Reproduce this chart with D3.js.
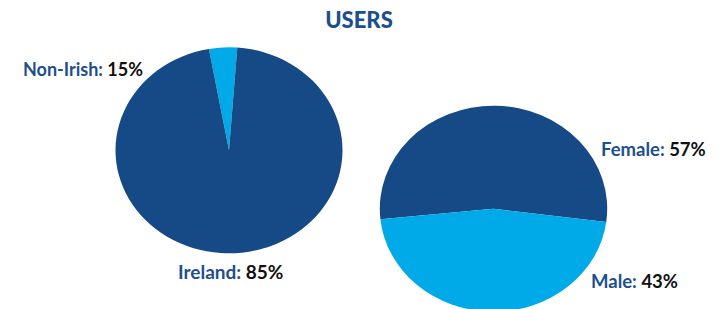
<!DOCTYPE html>
<html>
<head>
<meta charset="utf-8">
<script src="https://cdn.jsdelivr.net/npm/d3@7"></script>
<style>
  body { margin: 0; background: #fff; }
  svg { display: block; }
</style>
</head>
<body>
<script>
// two pies: nationality and gender of users
var w = 727, h = 309;

// nationality
var natNames = ["Non-Irish", "Ireland"];
var natLabels = [15, 85];        // percentages as written on the chart
var natShares = [4, 96];         // slice sizes as drawn
// gender
var sexNames = ["Female", "Male"];
var sexLabels = [57, 43];
var sexShares = [53.7, 46.3];

var darkBlue = "#164a87", lightBlue = "#00a9e8";
var labelBlue = "#1d4f8d";
var font = "Lato, 'Open Sans', sans-serif";

var svg = d3.select("body").append("svg")
  .attr("width", w)
  .attr("height", h);

svg.append("text")
  .attr("x", 359).attr("y", 28)
  .attr("text-anchor", "middle")
  .attr("font-family", font)
  .attr("font-weight", 900)
  .attr("font-size", "22px")
  .attr("fill", labelBlue)
  .text("USERS");

var deg = Math.PI / 180;

// draws an elliptical pie (circle arc squashed vertically)
function drawPie(cx, cy, rx, ry, shares, colors, start) {
  var pie = d3.pie().sort(null)
    .startAngle(start * deg)
    .endAngle(start * deg + 2 * Math.PI);
  var arc = d3.arc().innerRadius(0).outerRadius(rx);
  var g = svg.append("g")
    .attr("transform", "translate(" + cx + "," + cy + ") scale(1," + (ry / rx) + ")");
  g.selectAll("path")
    .data(pie(shares))
    .enter()
    .append("path")
    .attr("d", arc)
    .attr("fill", function(d, i) { return colors[i]; });
}

drawPie(229, 150.3, 113.5, 103, natShares, [lightBlue, darkBlue], -10.2);
drawPie(493.5, 208.7, 113.7, 103, sexShares, [darkBlue, lightBlue], -95.9);

// labels: name in blue, value in black
function label(x, y, name, val, size) {
  var t = svg.append("text")
    .attr("x", x).attr("y", y)
    .attr("font-family", font)
    .attr("font-weight", 700)
    .attr("font-size", size + "px");
  t.append("tspan").attr("fill", labelBlue).text(name + ": ");
  t.append("tspan").attr("fill", "#111").text(val + "%");
}

label(23, 76, natNames[0], natLabels[0], 18);
label(178, 279, natNames[1], natLabels[1], 19);
label(601, 156, sexNames[0], sexLabels[0], 18.5);
label(591, 288, sexNames[1], sexLabels[1], 18.5);
</script>
</body>
</html>
